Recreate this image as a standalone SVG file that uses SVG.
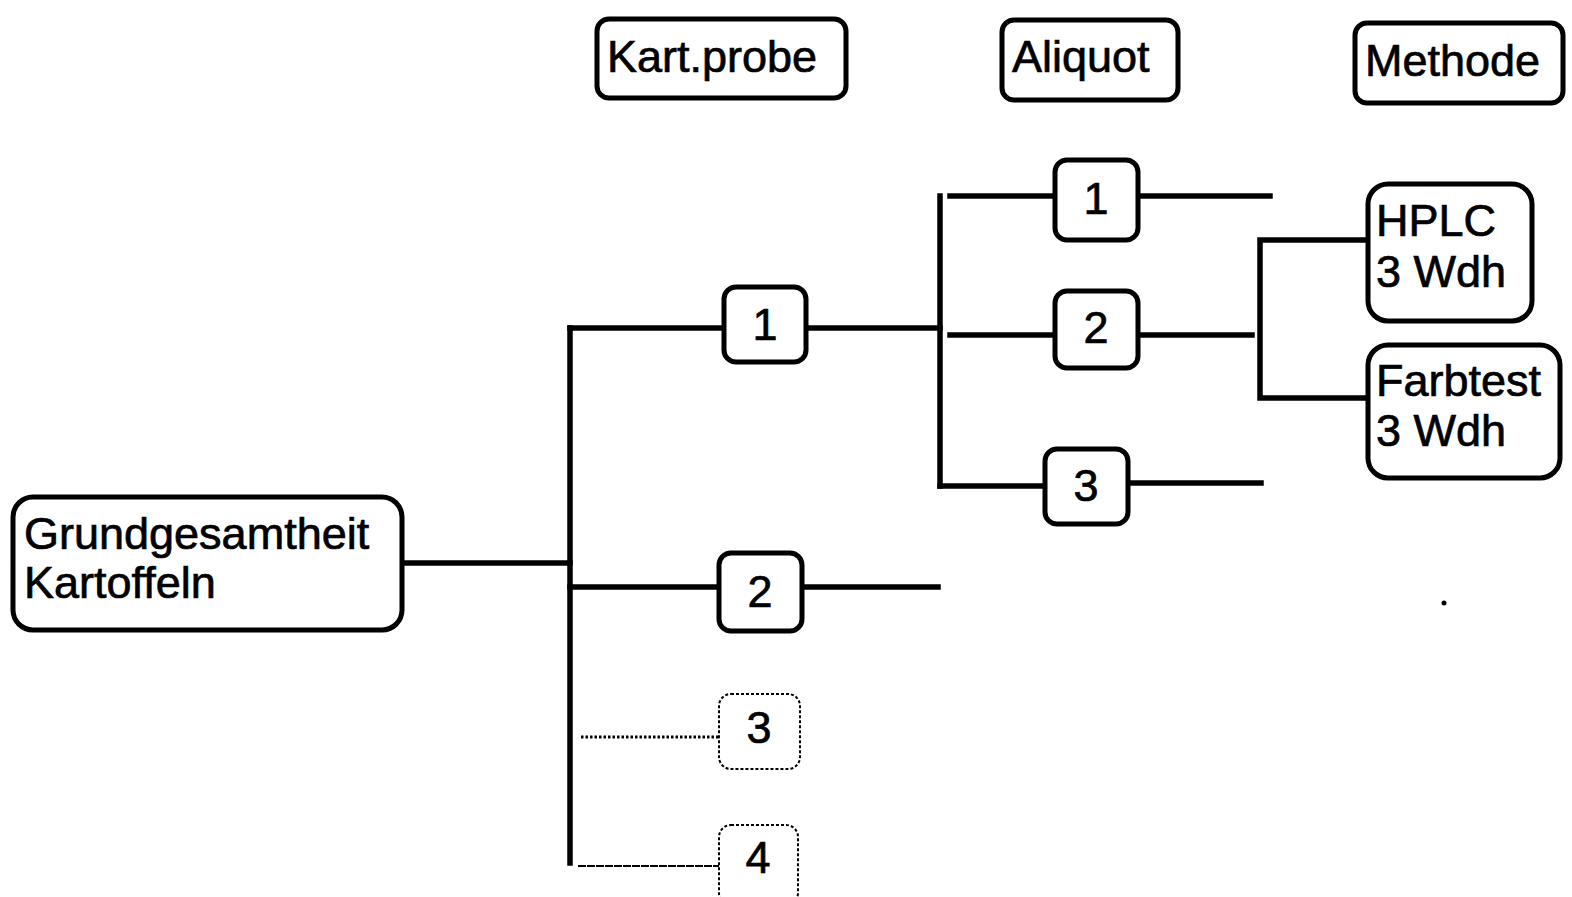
<svg xmlns="http://www.w3.org/2000/svg" width="1572" height="897" viewBox="0 0 1572 897">
<style>
.box{fill:#fff;stroke:#000;stroke-width:5}
.dbox{fill:#fff;stroke:#000;stroke-width:2;stroke-dasharray:3 2}
.ln{stroke:#000;stroke-width:5.5;fill:none;stroke-linecap:square}
.t{font-family:"Liberation Sans",Arial,sans-serif;font-size:45px;fill:#000;stroke:#000;stroke-width:0.7}
.c{text-anchor:middle}
</style>
<rect width="1572" height="897" fill="#fff"/>
<g id="connectors">
<line class="ln" x1="402" y1="563" x2="570" y2="563"/>
<line class="ln" x1="570" y1="328" x2="570" y2="863" stroke-width="7"/>
<line class="ln" x1="570" y1="328" x2="724" y2="328"/>
<line class="ln" x1="806" y1="328" x2="940" y2="328"/>
<line class="ln" x1="570" y1="587" x2="719" y2="587"/>
<line class="ln" x1="802" y1="587" x2="938" y2="587"/>
<line x1="581" y1="737" x2="719" y2="737" stroke="#000" stroke-width="3" stroke-dasharray="2.5 2"/>
<line x1="578" y1="866" x2="719" y2="866" stroke="#000" stroke-width="2" stroke-dasharray="8 1"/>
<line class="ln" x1="940" y1="196" x2="940" y2="486"/>
<line class="ln" x1="950" y1="196" x2="1055" y2="196"/>
<line class="ln" x1="1138" y1="196" x2="1270" y2="196"/>
<line class="ln" x1="950" y1="335" x2="1055" y2="335"/>
<line class="ln" x1="1140" y1="335" x2="1252" y2="335"/>
<line class="ln" x1="940" y1="486" x2="1045" y2="486"/>
<line class="ln" x1="1128" y1="483" x2="1261" y2="483"/>
<polyline class="ln" points="1368,240 1260,240 1260,398 1368,398"/>
</g>
<g id="h-kartprobe"><rect class="box" x="597" y="19" width="249" height="79" rx="12"/><text class="t" x="607" y="72">Kart.probe</text></g>
<g id="h-aliquot"><rect class="box" x="1002" y="20" width="176" height="80" rx="12"/><text class="t" x="1012" y="72">Aliquot</text></g>
<g id="h-methode"><rect class="box" x="1355" y="23" width="208" height="80" rx="12"/><text class="t" x="1365" y="76">Methode</text></g>
<g id="grundgesamtheit"><rect class="box" x="13" y="497" width="389" height="133" rx="20"/><text class="t" x="24" y="549">Grundgesamtheit</text><text class="t" x="24" y="598">Kartoffeln</text></g>
<g id="kp1"><rect class="box" x="724" y="287" width="82" height="75" rx="12"/><text class="t c" x="765" y="340">1</text></g>
<g id="kp2"><rect class="box" x="719" y="553" width="83" height="78" rx="12"/><text class="t c" x="760" y="607">2</text></g>
<g id="kp3"><rect class="dbox" x="719" y="694" width="81" height="75" rx="12"/><text class="t c" x="759" y="743">3</text></g>
<g id="kp4"><rect class="dbox" x="719" y="825" width="79" height="80" rx="12"/><text class="t c" x="758" y="873">4</text></g>
<g id="a1"><rect class="box" x="1055" y="160" width="83" height="80" rx="12"/><text class="t c" x="1096" y="214">1</text></g>
<g id="a2"><rect class="box" x="1055" y="291" width="83" height="77" rx="12"/><text class="t c" x="1096" y="343">2</text></g>
<g id="a3"><rect class="box" x="1045" y="449" width="83" height="75" rx="12"/><text class="t c" x="1086" y="501">3</text></g>
<g id="hplc"><rect class="box" x="1368" y="184" width="164" height="137" rx="20"/><text class="t" x="1376" y="236">HPLC</text><text class="t" x="1376" y="287">3 Wdh</text></g>
<g id="farbtest"><rect class="box" x="1368" y="345" width="192" height="133" rx="20"/><text class="t" x="1376" y="396">Farbtest</text><text class="t" x="1376" y="446">3 Wdh</text></g>
<circle cx="1444" cy="603" r="2.5" fill="#000"/>
</svg>
